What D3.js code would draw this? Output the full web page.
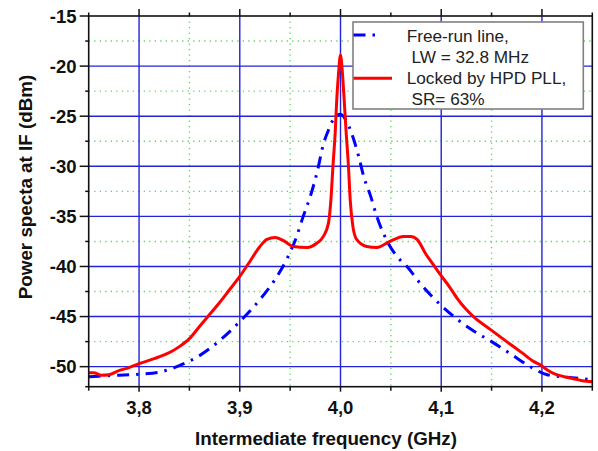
<!DOCTYPE html>
<html><head><meta charset="utf-8">
<script src="https://cdn.jsdelivr.net/npm/d3@7"></script>
<style>body{margin:0;background:#fff}svg{display:block}</style>
</head><body>
<svg id="c" width="598" height="451"></svg>
<script>
// ---- data ----
const xMajorTicks = [3.8, 3.9, 4.0, 4.1, 4.2];
const xTickLabels = ["3,8", "3,9", "4,0", "4,1", "4,2"];
const xMinorTicks = [3.75, 3.85, 3.95, 4.05, 4.15, 4.25];
const yMajorTicks = [-15, -20, -25, -30, -35, -40, -45, -50];
const yMinorTicks = [-17.5, -22.5, -27.5, -32.5, -37.5, -42.5, -47.5, -52];

const freeFreq = [3.75,3.77,3.80,3.82,3.84,3.86,3.88,3.90,3.92,3.935,3.948,3.955,3.963,3.970,3.977,3.983,3.988,3.993,4.000,4.006,4.011,4.018,4.023,4.030,4.036,4.044,4.056,4.066,4.08,4.10,4.115,4.13,4.15,4.17,4.19,4.205,4.23,4.25];
const freeVals = [-51.0,-50.9,-50.75,-50.55,-49.9,-48.9,-47.4,-45.5,-43.3,-41.3,-39.0,-37.4,-35.0,-33.0,-30.5,-27.8,-26.4,-25.3,-24.8,-25.5,-26.7,-29.0,-31.0,-33.0,-35.0,-37.0,-39.0,-40.0,-41.8,-43.9,-45.2,-46.3,-47.5,-48.8,-50.1,-50.8,-51.1,-51.3];

const lockFreq = [3.750,3.755,3.762,3.770,3.780,3.790,3.800,3.815,3.830,3.840,3.850,3.860,3.870,3.880,3.890,3.900,3.910,3.920,3.927,3.935,3.943,3.953,3.967,3.976,3.983,3.988,3.9905,3.9925,3.9947,3.9963,3.998,4.000,4.002,4.0036,4.0056,4.0079,4.0096,4.0123,4.016,4.026,4.036,4.049,4.0625,4.070,4.076,4.085,4.092,4.099,4.108,4.116,4.124,4.132,4.149,4.165,4.180,4.192,4.198,4.205,4.212,4.222,4.231,4.240,4.250];
const lockVals = [-50.6,-50.6,-50.85,-50.8,-50.4,-50.1,-49.7,-49.2,-48.6,-48.0,-47.2,-46.0,-44.8,-43.6,-42.3,-41.0,-39.5,-38.0,-37.3,-37.1,-37.4,-38.0,-38.1,-37.7,-37.0,-35.7,-33.3,-30.0,-26.7,-23.3,-20.8,-18.9,-20.8,-23.3,-26.6,-30.0,-33.3,-36.0,-37.3,-38.0,-38.1,-37.5,-37.0,-37.0,-37.3,-38.8,-39.8,-40.8,-42.0,-43.2,-44.2,-45.0,-46.3,-47.5,-48.6,-49.5,-49.8,-50.3,-50.7,-51.0,-51.2,-51.4,-51.5];

const legendLabels = [["Free-run line,", " LW = 32.8 MHz"], ["Locked by HPD PLL,", " SR= 63%"]];

// ---- layout ----
const L = 88.7, R = 592.3, T = 16, B = 386.7;
const svg = d3.select("#c");
const x = d3.scaleLinear().domain([3.75, 4.25]).range([L, R]);
const y = d3.scaleLinear().domain([-52, -15]).range([B, T]);

const gMinor = svg.append("g").attr("class", "minor-grid");
const gMajor = svg.append("g").attr("class", "major-grid");
const minorStyle = sel => sel.attr("stroke", "#55dd55").attr("stroke-width", 1.4).attr("stroke-dasharray", "1.3,4.2");
const majorStyle = sel => sel.attr("stroke", "#2222dd").attr("stroke-width", 1.4);

xMinorTicks.filter(v => v > 3.76 && v < 4.24).forEach(v => {
  gMinor.append("line").attr("x1", x(v)).attr("x2", x(v)).attr("y1", T).attr("y2", B).call(minorStyle);
});
yMinorTicks.filter(v => v > -51).forEach(v => {
  gMinor.append("line").attr("x1", L).attr("x2", R).attr("y1", y(v)).attr("y2", y(v)).call(minorStyle);
});
xMajorTicks.forEach(v => {
  gMajor.append("line").attr("x1", x(v)).attr("x2", x(v)).attr("y1", T).attr("y2", B).call(majorStyle);
});
yMajorTicks.filter(v => v < -15).forEach(v => {
  gMajor.append("line").attr("x1", L).attr("x2", R).attr("y1", y(v)).attr("y2", y(v)).call(majorStyle);
});

// curves
const lineFree = d3.line().x((d, i) => x(freeFreq[i])).y(d => y(d)).curve(d3.curveMonotoneX);
const lineLock = d3.line().x((d, i) => x(lockFreq[i])).y(d => y(d)).curve(d3.curveMonotoneX);
svg.append("path").datum(freeVals).attr("d", lineFree).attr("fill", "none")
  .attr("stroke", "#0000ff").attr("stroke-width", 3).attr("stroke-dasharray", "12,7,2.5,7");
svg.append("path").datum(lockVals).attr("d", lineLock).attr("fill", "none")
  .attr("stroke", "#ff0000").attr("stroke-width", 3).attr("stroke-linejoin", "round");

// axes frame
svg.append("rect").attr("x", L).attr("y", T).attr("width", R - L).attr("height", B - T)
  .attr("fill", "none").attr("stroke", "#111").attr("stroke-width", 1.6);

// ticks
const tk = svg.append("g").attr("stroke", "#111").attr("stroke-width", 1.5);
xMajorTicks.forEach(v => {
  tk.append("line").attr("x1", x(v)).attr("x2", x(v)).attr("y1", B).attr("y2", B + 5);
  tk.append("line").attr("x1", x(v)).attr("x2", x(v)).attr("y1", T).attr("y2", T - 7);
});
xMinorTicks.forEach(v => {
  tk.append("line").attr("x1", x(v)).attr("x2", x(v)).attr("y1", B).attr("y2", B + 4);
  tk.append("line").attr("x1", x(v)).attr("x2", x(v)).attr("y1", T).attr("y2", T - 3.5);
});
yMajorTicks.forEach(v => {
  tk.append("line").attr("x1", L).attr("x2", L - 9).attr("y1", y(v)).attr("y2", y(v));
});
yMinorTicks.forEach(v => {
  tk.append("line").attr("x1", L).attr("x2", L - 3.5).attr("y1", y(v)).attr("y2", y(v));
});

// tick labels
const font = "'Liberation Sans', Arial, sans-serif";
xMajorTicks.forEach((v, i) => {
  svg.append("text").attr("x", x(v)).attr("y", 414).attr("text-anchor", "middle")
    .attr("font-family", font).attr("font-weight", "bold").attr("font-size", 18.5).attr("fill", "#111")
    .text(xTickLabels[i]);
});
yMajorTicks.forEach(v => {
  svg.append("text").attr("x", 76.5).attr("y", y(v)).attr("dy", "0.36em").attr("text-anchor", "end")
    .attr("font-family", font).attr("font-weight", "bold").attr("font-size", 18.5).attr("fill", "#111")
    .text(v);
});

// axis titles
svg.append("text").attr("x", 326).attr("y", 445).attr("text-anchor", "middle")
  .attr("font-family", font).attr("font-weight", "bold").attr("font-size", 18.8).attr("fill", "#111")
  .text("Intermediate frequency (GHz)");
svg.append("text").attr("transform", "translate(31.5,187) rotate(-90)").attr("text-anchor", "middle")
  .attr("font-family", font).attr("font-weight", "bold").attr("font-size", 18.8).attr("fill", "#111")
  .text("Power specta at IF (dBm)");

// legend
const lg = svg.append("g");
lg.append("rect").attr("x", 353).attr("y", 22).attr("width", 230.3).attr("height", 87)
  .attr("fill", "#fff").attr("stroke", "#808080").attr("stroke-width", 1.6);
lg.append("line").attr("x1", 353.5).attr("x2", 377).attr("y1", 35).attr("y2", 35)
  .attr("stroke", "#0000ff").attr("stroke-width", 3).attr("stroke-dasharray", "12,7,2.5,7");
lg.append("line").attr("x1", 353.5).attr("x2", 392).attr("y1", 78.3).attr("y2", 78.3)
  .attr("stroke", "#ff0000").attr("stroke-width", 3);
const ly = [[41.7, 63.2], [84, 105.2]];
legendLabels.forEach((pair, k) => {
  pair.forEach((t, j) => {
    lg.append("text").attr("x", 406.7).attr("y", ly[k][j]).attr("xml:space", "preserve")
      .style("white-space", "pre")
      .attr("font-family", font).attr("font-size", 17.2).attr("fill", "#222").text(t);
  });
});
</script>
</body></html>
